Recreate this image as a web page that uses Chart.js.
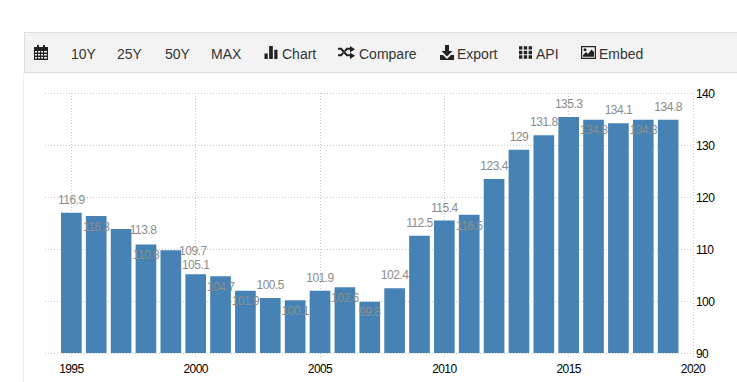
<!DOCTYPE html>
<html><head><meta charset="utf-8">
<style>
html,body{margin:0;padding:0;background:#fff;width:737px;height:382px;overflow:hidden;font-family:"Liberation Sans",Arial,sans-serif}
#wrap{position:absolute;left:0;top:0;width:737px;height:382px}
#side{position:absolute;left:23px;top:73px;width:1px;height:309px;background:#eee}
#bar{position:absolute;left:24px;top:32px;width:713px;height:41px;box-sizing:border-box;background:#f3f3f3;border:1px solid #ddd;border-bottom:1px solid #ddd;border-right:none}
#bar span.t{position:absolute;top:12.5px;font-size:14px;line-height:16px;color:#333;white-space:nowrap}
#bar svg{position:absolute;fill:#222}
canvas{position:absolute;left:0;top:0}
</style></head><body>
<div id="wrap"><canvas id="c" width="737" height="382" style="width:737px;height:382px"></canvas>
<div id="side"></div>
<div id="bar">
<svg style="left:9px;top:12px" width="14" height="15" viewBox="0 0 14 15"><path d="M0 2h3V0h2v2h4V0h2v2h3v13H0z"/><path fill="#f3f3f3" d="M1 6h2v1.500H1zM4 6h2v1.500H4zM7 6h2v1.500H7zM10 6h3v1.500h-3zM1 9h2v1.500H1zM4 9h2v1.500H4zM7 9h2v1.500H7zM10 9h3v1.500h-3zM1 12h2v1.500H1zM4 12h2v1.500H4zM7 12h2v1.500H7zM10 12h3v1.500h-3z"/></svg>
<span class="t" style="left:46px">10Y</span>
<span class="t" style="left:92px">25Y</span>
<span class="t" style="left:140px">50Y</span>
<span class="t" style="left:186px">MAX</span>
<svg style="left:239px;top:13px" width="14" height="13" viewBox="0 0 14 14"><path d="M0 8h3.500v6H0zM5 0h4v14H5zM10.500 4H14v10h-3.500z"/></svg>
<span class="t" style="left:257px">Chart</span>
<svg style="left:313px;top:13px" width="17" height="13" viewBox="0 0 17 14" preserveAspectRatio="none"><path d="M0 2h3.500l6 7H12V7l5 3.500L12 14v-3H8.500l-6-7H0zM0 9h2.500l2-2.300 1.300 1.600L3.500 11H0zM8.500 2H12V0l5 3.500L12 7V4H9.500l-2 2.300L6.200 4.700z"/></svg>
<span class="t" style="left:334px">Compare</span>
<svg style="left:415px;top:12px" width="15" height="15" viewBox="0 0 15 15"><path d="M5 0h4v6h3.500L7 11.500 1.500 6H5zM0 10h3l4 4 4-4h3v5H0z"/></svg>
<span class="t" style="left:432px">Export</span>
<svg style="left:494px;top:13px" width="13" height="13" viewBox="0 0 13.500 13"><path d="M0 0h3.500v3.500H0zM5 0h3.500v3.500H5zM10 0h3.500v3.500H10zM0 4.700h3.500v3.500H0zM5 4.700h3.500v3.500H5zM10 4.700h3.500v3.500H10zM0 9.400h3.500v3.500H0zM5 9.400h3.500v3.500H5zM10 9.400h3.500v3.500H10z"/></svg>
<span class="t" style="left:511px">API</span>
<svg style="left:556px;top:13px" width="15" height="13" viewBox="0 0 15 13"><path fill-rule="evenodd" d="M0 0h15v13H0zM1.200 1.200v10.600h12.600V1.200z"/><path d="M2 10.800V9l3-3 2 2 3.500-4.500L13 6v4.800z"/><circle cx="4" cy="3.800" r="1.500"/></svg>
<span class="t" style="left:574px">Embed</span>
</div></div>
<script src="https://cdn.jsdelivr.net/npm/chart.js@4/dist/chart.umd.min.js"></script>
<script>
const years = [1995,1996,1997,1998,1999,2000,2001,2002,2003,2004,2005,2006,2007,2008,2009,2010,2011,2012,2013,2014,2015,2016,2017,2018,2019];
const values = [116.9,116.3,113.8,110.8,109.7,105.1,104.7,101.9,100.5,100.1,101.9,102.6,99.8,102.4,112.5,115.4,116.5,123.4,129,131.8,135.3,134.8,134.1,134.8,134.8];
const labelPlacement = ['a','b','s','b','s','n','b','b','a','b','a','b','b','a','a','a','b','a','a','a','a','b','a','b','a'];
const xTicks = [1995,2000,2005,2010,2015,2020];
const yTicks = [90,100,110,120,130,140];

const placements = {a:[0,-12.5], b:[0,11], s:[22,1], n:[0,-9]};
const ctx = document.getElementById('c').getContext('2d',{alpha:false});
const grid = '#c8c8c8';
const family = '"Liberation Sans", Arial, sans-serif';
const valueLabels = {
  id:'valueLabels',
  beforeDraw(chart){
    const c = chart.ctx;
    c.save(); c.fillStyle='#fff'; c.fillRect(0,0,chart.width,chart.height); c.restore();
    c.letterSpacing='-0.6px';
  },
  afterDatasetsDraw(chart){
    const c = chart.ctx, meta = chart.getDatasetMeta(0);
    c.save();
    c.font = '12px '+family;
    c.letterSpacing='-0.5px';
    c.textAlign='center'; c.textBaseline='middle'; c.fillStyle='#8c8c8c';
    meta.data.forEach((el,i)=>{
      const p = placements[labelPlacement[i]];
      c.fillText(String(values[i]), el.x+p[0], el.y+p[1]);
    });
    c.restore();
  }
};
new Chart(ctx,{
  type:'bar',
  data:{datasets:[{data:years.map((y,i)=>({x:y,y:values[i]})),backgroundColor:'#4682b4',barThickness:20,borderWidth:0}]},
  plugins:[valueLabels],
  options:{
    responsive:false,animation:false,events:[],
    layout:{padding:{left:45,top:93,right:0,bottom:0}},
    plugins:{legend:{display:false},tooltip:{enabled:false},title:{display:false}},
    scales:{
      x:{type:'linear',offset:false,min:1993.94,max:2020,
        afterBuildTicks(s){s.ticks=xTicks.map(v=>({value:v}));},
        afterFit(s){s.height=29;},
        grid:{offset:false,color:grid,lineWidth:1,tickBorderDash:[1,2],tickLength:5,tickColor:grid,drawTicks:true},
        border:{display:false,dash:[1,2]},
        ticks:{color:'#000',font:{family:family,size:12},padding:4,maxRotation:0,autoSkip:false,callback:v=>String(v)}
      },
      y:{position:'right',min:90,max:140,
        afterBuildTicks(s){s.ticks=yTicks.map(v=>({value:v}));},
        afterFit(s){s.width=44;},
        grid:{color:grid,lineWidth:1,drawTicks:false},
        border:{display:false,dash:[1,2]},
        ticks:{color:'#000',crossAlign:'near',font:{family:family,size:12},padding:3,labelOffset:1.5,callback:v=>String(v)}
      }
    }
  }
});
</script></body></html>
